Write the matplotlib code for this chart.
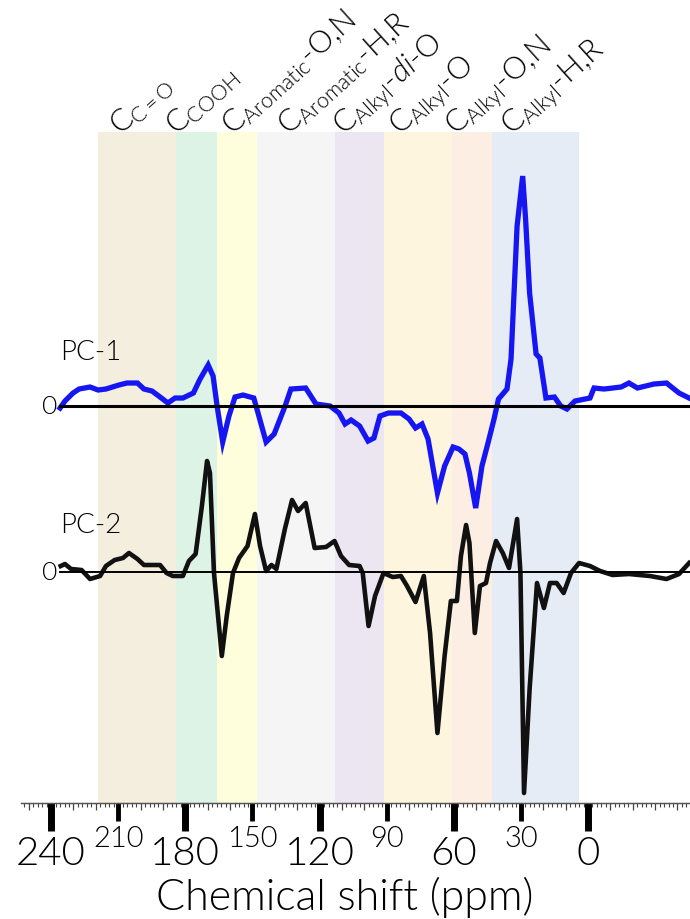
import numpy as np
import matplotlib
matplotlib.use("Agg")
import matplotlib.pyplot as plt
from matplotlib.ticker import MultipleLocator

# -------------------- DATA --------------------

# PC-1 loading (blue), chemical shift in ppm and loading in arbitrary units
pc1_ppm = [236.0, 233.8, 230.2, 227.5, 222.6, 219.0, 215.5, 209.7, 206.1, 201.4,
           198.5, 194.9, 191.3, 187.8, 184.6, 181.1, 176.4, 173.4, 169.8, 167.6,
           165.8, 163.3, 160.5, 157.8, 154.2, 149.4, 147.5, 143.9, 140.3, 135.4,
           132.8, 126.2, 121.6, 115.3, 111.3, 108.6, 105.9, 102.1, 98.3, 95.7,
           93.0, 89.2, 83.6, 80.0, 77.1, 74.2, 71.5, 67.3, 64.1, 60.3,
           57.7, 55.0, 53.0, 50.2, 47.4, 44.7, 42.0, 40.0, 36.2, 34.4,
           31.7, 29.2, 27.9, 26.1, 23.2, 21.5, 18.8, 15.0, 12.2, 9.4,
           5.8, -0.9, -2.7, -7.2, -14.8, -18.3, -22.1, -29.5, -35.1, -40.7, -45.2]
pc1_val = [-0.02, 0.05, 0.13, 0.17, 0.19, 0.16, 0.17, 0.21, 0.23, 0.23,
           0.17, 0.15, 0.09, 0.03, 0.08, 0.08, 0.13, 0.27, 0.41, 0.30,
           0.00, -0.36, -0.10, 0.09, 0.11, 0.08, -0.07, -0.36, -0.28, 0.00,
           0.17, 0.18, 0.02, 0.00, -0.07, -0.18, -0.14, -0.20, -0.35, -0.32,
           -0.10, -0.07, -0.07, -0.13, -0.22, -0.18, -0.33, -0.87, -0.60, -0.41,
           -0.43, -0.48, -0.67, -1.02, -0.60, -0.37, -0.13, 0.07, 0.17, 0.47,
           1.80, 2.30, 1.87, 1.13, 0.52, 0.48, 0.08, 0.09, 0.00, -0.03,
           0.05, 0.08, 0.18, 0.17, 0.19, 0.23, 0.18, 0.22, 0.23, 0.13, 0.08]

# PC-2 loading (black)
pc2_ppm = [235.7, 233.8, 231.1, 226.4, 222.6, 218.1, 215.5, 211.6, 207.9, 205.2,
           201.4, 198.5, 194.9, 191.3, 188.4, 185.6, 181.1, 178.4, 175.4, 172.6,
           170.3, 169.0, 167.2, 163.7, 161.5, 158.7, 156.0, 152.2, 148.9, 146.6,
           143.9, 141.5, 139.3, 135.5, 132.3, 129.6, 126.2, 122.2, 117.1, 113.3,
           110.4, 106.8, 102.1, 100.7, 98.1, 95.2, 91.4, 87.3, 83.6, 80.9,
           77.1, 73.4, 70.6, 67.3, 64.1, 61.3, 58.6, 56.8, 54.5, 53.0,
           50.6, 48.3, 45.6, 43.8, 41.1, 38.1, 35.3, 31.7, 30.2, 28.6,
           26.1, 22.8, 19.7, 17.0, 14.0, 10.9, 7.6, 4.0, -0.9, -5.4,
           -11.0, -18.3, -27.7, -35.1, -40.7, -45.2]
pc2_val = [0.06, 0.08, 0.03, 0.02, -0.07, -0.04, 0.06, 0.12, 0.14, 0.19,
           0.13, 0.07, 0.07, 0.07, -0.01, -0.04, -0.04, 0.11, 0.18, 0.66,
           1.11, 0.99, -0.01, -0.84, -0.44, -0.01, 0.14, 0.26, 0.58, 0.26,
           0.01, 0.07, 0.03, 0.43, 0.72, 0.61, 0.69, 0.24, 0.25, 0.31,
           0.16, 0.07, 0.06, -0.01, -0.54, -0.24, -0.01, -0.05, -0.04, -0.14,
           -0.30, -0.04, -0.61, -1.61, -0.84, -0.29, -0.29, 0.16, 0.47, 0.29,
           -0.61, -0.14, -0.11, 0.09, 0.31, 0.19, 0.04, 0.53, -0.01, -2.21,
           -1.17, -0.11, -0.36, -0.11, -0.11, -0.21, -0.01, 0.09, 0.06, 0.01,
           -0.03, -0.02, -0.04, -0.07, -0.02, 0.09]

# vertical offset of the PC-2 trace below PC-1
PC2_OFFSET = -1.66

# chemical shift regions (ppm edges, high to low) and their labels
region_edges = [219, 184, 166, 148, 113, 91, 61, 43, 4]
region_colors = ["#F4EEDE", "#DDF3E6", "#FEFEDD", "#F5F5F5",
                 "#ECE5F2", "#FEF5DF", "#FDEEE3", "#E6ECF6"]
region_labels = [r"C$_{\mathrm{C{=}O}}$",
                 r"C$_{\mathrm{COOH}}$",
                 r"C$_{\mathrm{Aromatic}}$-O,N",
                 r"C$_{\mathrm{Aromatic}}$-H,R",
                 r"C$_{\mathrm{Alkyl}}$-$\mathit{di}$-O",
                 r"C$_{\mathrm{Alkyl}}$-O",
                 r"C$_{\mathrm{Alkyl}}$-O,N",
                 r"C$_{\mathrm{Alkyl}}$-H,R"]

major_ticks = [240, 180, 120, 60, 0]
mid_ticks = [210, 150, 90, 30]

# -------------------- PLOT --------------------

plt.rcParams["font.family"] = ["Lato", "DejaVu Sans"]
plt.rcParams["font.weight"] = 300
plt.rcParams["axes.labelweight"] = 300
# matplotlib's "light" keyword means 200, so ask for 300 (Lato Light) by number
plt.rcParams["mathtext.fontset"] = "custom"
plt.rcParams["mathtext.rm"] = "Lato:weight=300"
plt.rcParams["mathtext.it"] = "Lato:italic:weight=300"
plt.rcParams["text.color"] = "black"
plt.rcParams["xtick.color"] = "black"

fig = plt.figure(figsize=(6.9, 9.2), dpi=100)
ax = fig.add_axes([0.030, 0.1261, 0.970, 0.7293])

ax.set_xlim(253.6, -45.6)
ax.set_ylim(-3.97, 2.74)

# shaded regions
for i, c in enumerate(region_colors):
    ax.axvspan(region_edges[i], region_edges[i + 1], color=c, lw=0, zorder=0)

# region labels, rotated, sitting above the shading
label_x = np.linspace(209, 34, len(region_labels))
for x, lab in zip(label_x, region_labels):
    ax.text(x, 0.995, lab, transform=ax.get_xaxis_transform(),
            rotation=42, rotation_mode="anchor", ha="left", va="baseline",
            fontsize=22, clip_on=False)

# traces
x_start = max(pc1_ppm)
ax.plot(pc1_ppm, pc1_val, color="#1616F2", lw=3.8, solid_joinstyle="miter", zorder=2)
ax.plot([x_start, -45.6], [0, 0], color="black", lw=2.2, zorder=3)

ax.plot(pc2_ppm, np.array(pc2_val) + PC2_OFFSET, color="#111111", lw=3.3, zorder=2)
ax.plot([x_start, -45.6], [PC2_OFFSET, PC2_OFFSET], color="black", lw=1.4, zorder=3)

# zero labels and trace names
ax.text(x_start + 1, 0, "0", ha="right", va="center", fontsize=19)
ax.text(x_start + 1, PC2_OFFSET, "0", ha="right", va="center", fontsize=19)
ax.text(x_start, 0.55, "PC-1", ha="left", va="center", fontsize=20)
ax.text(x_start, PC2_OFFSET + 0.48, "PC-2", ha="left", va="center", fontsize=20)

# axes styling
for s in ["top", "left", "right"]:
    ax.spines[s].set_visible(False)
ax.spines["bottom"].set_color("#555555")
ax.spines["bottom"].set_linewidth(1.0)
ax.set_yticks([])

ax.set_xticks(major_ticks)
ax.set_xticklabels([str(t) for t in major_ticks], fontsize=29)
ax.set_xticks(mid_ticks, minor=True)
ax.set_xticklabels([str(t) for t in mid_ticks], minor=True, fontsize=21)
ax.tick_params(axis="x", which="major", length=20, width=5, pad=3)
ax.tick_params(axis="x", which="minor", length=13, width=3.5, pad=3)

# fine scale ticks
sec = ax.secondary_xaxis("bottom")
sec.xaxis.set_major_locator(MultipleLocator(10))
sec.xaxis.set_minor_locator(MultipleLocator(2))
sec.tick_params(which="major", length=5, width=0.9, color="#444444", labelbottom=False)
sec.tick_params(which="minor", length=3, width=0.8, color="#444444")
sec.spines["bottom"].set_color("#555555")

ax.set_xlabel("Chemical shift (ppm)", fontsize=31)
ax.xaxis.set_label_coords(0.4845, -0.108)

fig.savefig("out.png", dpi=100)
